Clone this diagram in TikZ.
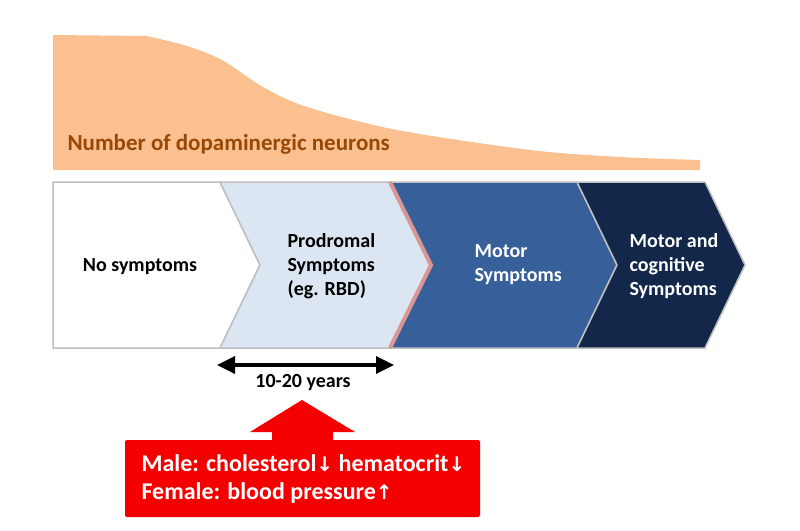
\documentclass[tikz,border=0pt]{standalone}
\usepackage{fontspec}
\setmainfont{Carlito}
\newfontfamily\arrowfont{DejaVu Sans}
\usetikzlibrary{arrows.meta}
\definecolor{neuron}{HTML}{FAC090}
\definecolor{neurontext}{HTML}{984807}
\definecolor{prodromal}{HTML}{DCE6F2}
\definecolor{motor}{HTML}{37609A}
\definecolor{cognitive}{HTML}{12274A}
\definecolor{edge}{HTML}{BFBFBF}
\definecolor{pinkedge}{HTML}{D99694}
\definecolor{alarm}{HTML}{F50000}

\begin{document}
\begin{tikzpicture}[x=1pt,y=-1pt,
	stage/.style={font=\bfseries\fontsize{20}{24}\selectfont, align=left},
	chevron/.style={draw=edge, line width=1.5pt}]
	\useasboundingbox (0,0) rectangle (800,530);
	\fill[neuron] (53,170)--(53,35)--(147,36)-- plot[smooth] coordinates {(147,36) (187,46) (222,60) (263,87) (307,107) (397,130) (530,150) (620,157) (700,160)}--(700,170)--cycle;
	\node[anchor=west, text=neurontext, font=\bfseries\fontsize{23}{27}\selectfont] (dopa) at (64,144) {Number of dopaminergic neurons};
	
	\filldraw[chevron, fill=white] (53,182)--(220,182)--(260,265)--(220,348)--(53,348)--cycle;
	\filldraw[chevron, fill=prodromal] (220,182)--(390,182)--(430,265)--(390,348)--(220,348)--(260,265)--cycle;
	\filldraw[chevron, fill=motor] (391,182)--(577,182)--(617,265)--(577,348)--(391,348)--(431,265)--cycle;
	\filldraw[chevron, fill=cognitive] (577,182)--(705,182)--(745,265)--(705,348)--(577,348)--(617,265)--cycle;
	\draw[pinkedge, line width=4pt] (390,182)--(431,265)--(390,348);
	
	\node[stage] (none) at (140,267) {No symptoms};
	\node[stage, anchor=west] (prod) at (284,266) {Prodromal\\Symptoms\\(eg. RBD)};
	\node[stage, anchor=west, text=white] (motor) at (471,265) {Motor\\Symptoms};
	\node[stage, anchor=west, text=white] (cogn) at (626,266) {Motor and\\cognitive\\Symptoms};
	
	\coordinate (yl) at (217,365);
	\coordinate (yr) at (394,365);
	\draw[{Triangle[length=18pt,width=17pt]}-{Triangle[length=18pt,width=17pt]}, line width=3.5pt] (yl)--(yr);
	\node[stage] (years) at (303,383) {10-20 years};
	
	\fill[alarm] (272,442)--(272,432)--(250,432)--(302,400)--(355,432)--(333,432)--(333,442)--cycle;
	\fill[alarm, rounded corners=2pt] (125,440) rectangle (480,517);
	\node[anchor=west, align=left, text=white, font=\bfseries\fontsize{24}{28}\selectfont] (risk) at (138,479) {Male: cholesterol{\arrowfont\fontsize{20}{28}\selectfont ↓} hematocrit{\arrowfont\fontsize{20}{28}\selectfont ↓}\\Female: blood pressure{\arrowfont\fontsize{20}{28}\selectfont ↑}};
\end{tikzpicture}
\end{document}
